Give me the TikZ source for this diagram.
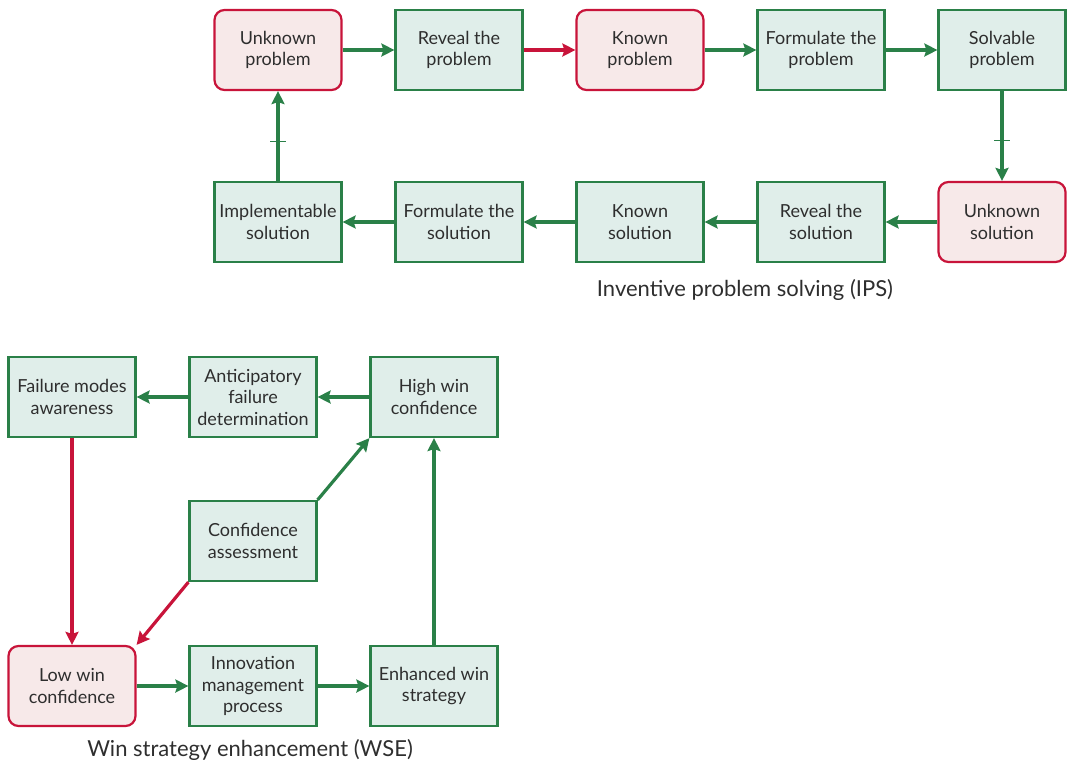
\documentclass[tikz,border=0pt]{standalone}
\usepackage{fontspec}
\setmainfont{Lato}
\usetikzlibrary{arrows.meta}
\definecolor{gline}{HTML}{2A8048}
\definecolor{gfill}{HTML}{E0EEEA}
\definecolor{rline}{HTML}{C8143A}
\definecolor{rfill}{HTML}{F7E9E9}
\definecolor{ink}{HTML}{2E2E2E}
\tikzset{
  box/.style={draw=gline, fill=gfill, line width=2.2pt, minimum width=127pt,
    minimum height=80pt, inner sep=0pt, align=center, text=ink,
    font=\fontsize{18}{21.5}\selectfont},
  rbox/.style={box, draw=rline, fill=rfill, rounded corners=10pt},
  garr/.style={draw=gline, line width=3.2pt, -{Stealth[length=13pt,width=13pt,inset=2pt]}},
  rarr/.style={garr, draw=rline},
  tickmark/.style={draw=gline, line width=1.4pt},
  caption/.style={text=ink, font=\fontsize{22}{26}\selectfont}
}
\begin{document}
\begin{tikzpicture}[x=1pt,y=-1pt]
\useasboundingbox (0,0) rectangle (1067,764);
% inventive problem solving: upper row
\node[rbox] (up) at (278,50) {Unknown\\problem};
\node[box]  (rp) at (459,50) {Reveal the\\problem};
\node[rbox] (kp) at (640,50) {Known\\problem};
\node[box]  (fp) at (821,50) {Formulate the\\problem};
\node[box]  (sp) at (1002,50) {Solvable\\problem};
% lower row
\node[box]  (is) at (278,222) {Implementable\\solution};
\node[box]  (fs) at (459,222) {Formulate the\\solution};
\node[box]  (ks) at (640,222) {Known\\solution};
\node[box]  (rs) at (821,222) {Reveal the\\solution};
\node[rbox] (us) at (1002,222) {Unknown\\solution};
\node[caption] (ips) at (745,290) {Inventive problem solving (IPS)};

\draw[garr] (up) -- (rp);
\draw[rarr] (rp) -- (kp);
\draw[garr] (kp) -- (fp);
\draw[garr] (fp) -- (sp);
\draw[garr] (sp) -- coordinate[pos=0.55] (t2) (us);
\draw[garr] (us) -- (rs);
\draw[garr] (rs) -- (ks);
\draw[garr] (ks) -- (fs);
\draw[garr] (fs) -- (is);
\draw[garr] (is) -- coordinate[pos=0.44] (t1) (up);
\draw[tickmark] ([xshift=-8pt]t1) -- ([xshift=8pt]t1);
\draw[tickmark] ([xshift=-8pt]t2) -- ([xshift=8pt]t2);

% win strategy enhancement
\node[box]  (fm) at (72,397) {Failure modes\\awareness};
\node[box]  (af) at (253,397) {Anticipatory\\failure\\determination};
\node[box]  (hw) at (434,397) {High win\\confidence};
\node[box]  (ca) at (253,541) {Confidence\\assessment};
\node[rbox] (lw) at (72,686) {Low win\\confidence};
\node[box]  (im) at (253,686) {Innovation\\management\\process};
\node[box]  (ew) at (434,686) {Enhanced win\\strategy};
\node[caption] (wse) at (250,750) {Win strategy enhancement (WSE)};

\draw[garr] (hw) -- (af);
\draw[garr] (af) -- (fm);
\draw[rarr] (fm) -- (lw);
\draw[rarr] (ca.south west) -- (lw.north east);
\draw[garr] (ca.north east) -- (hw.south west);
\draw[garr] (lw) -- (im);
\draw[garr] (im) -- (ew);
\draw[garr] (ew) -- (hw);
\end{tikzpicture}
\end{document}
